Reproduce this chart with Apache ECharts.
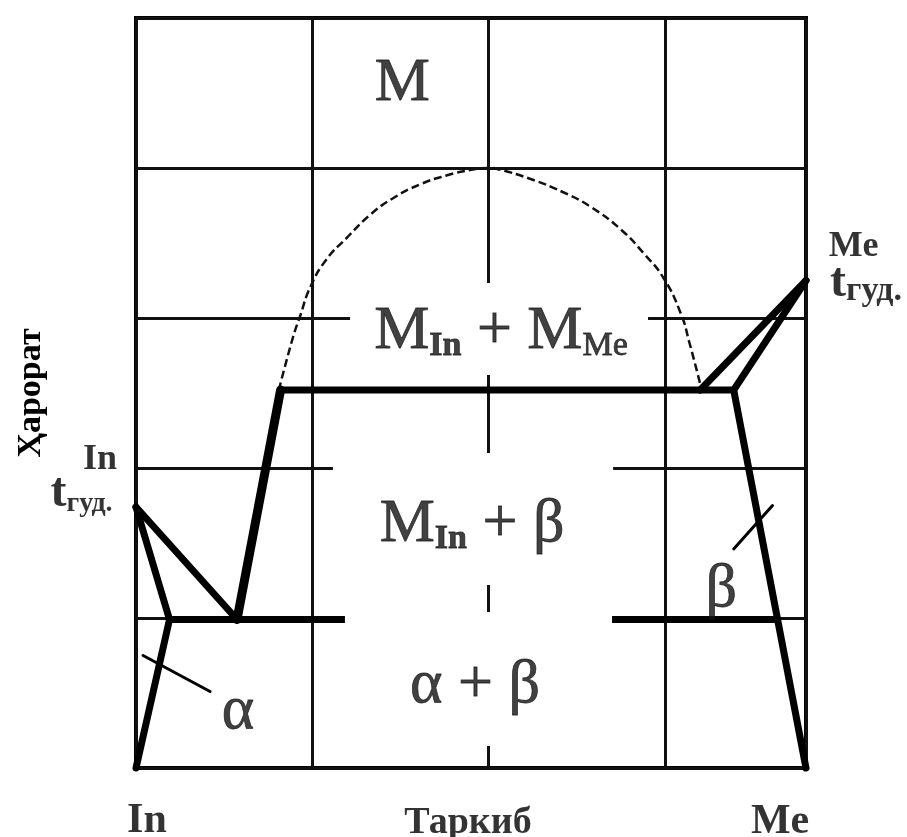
<!DOCTYPE html>
<html>
<head>
<meta charset="utf-8">
<script src="https://cdn.jsdelivr.net/npm/echarts@6/dist/echarts.min.js"></script>
<style>
  html, body { margin: 0; padding: 0; background: #fff; }
  #chart { width: 907px; height: 837px; }
</style>
</head>
<body>
<div id="chart"></div>
<script>
// x: composition in grid cells (0 = In, 3.8 = Me), y: temperature in grid cells
const liquidusIn = [[0, 1.74], [0.573, 0.99]]
const solidusIn = [[0, 1.74], [0.19, 0.99]]
const solvusIn = [[0, 0], [0.19, 0.99]]
const eutectic = [[0.19, 0.99], [3.62, 0.99]]
const liquidusMIn = [[0.573, 0.99], [0.82, 2.52]]
const monotectic = [[0.82, 2.52], [3.39, 2.52]]
const liquidusMe = [[3.8, 3.25], [3.2, 2.52]]
const solidusMe = [[3.8, 3.25], [3.39, 2.52]]
const solvusMe = [[3.39, 2.52], [3.8, 0]]
const gapCurve = [
  [0.81, 2.52], [0.89, 2.87], [0.93, 3.01], [0.99, 3.21], [1.08, 3.39], [1.20, 3.54],
  [1.33, 3.69], [1.46, 3.80], [1.61, 3.89], [1.76, 3.95], [1.91, 3.99], [2.00, 4.00],
  [2.06, 3.99], [2.23, 3.93], [2.42, 3.84], [2.58, 3.74], [2.75, 3.59], [2.88, 3.43],
  [2.99, 3.27], [3.09, 3.03], [3.14, 2.83], [3.20, 2.56]
]
const alphaPointer = [[0.04, 0.75], [0.42, 0.51]]
const betaPointer = [[3.39, 1.46], [3.61, 1.75]]

// white boxes behind the phase labels (grid lines are cut there)
const labelBoxes = [
  [[1.214, 2.62], [2.904, 3.233]],
  [[1.117, 1.22], [2.706, 2.10]],
  [[1.185, 0.147], [2.70, 1.04]]
]

const labelTexts = [
  '{m|M}',
  '{m|M}{sb|In}{m| + M}{s|Me}',
  '{m|M}{sb|In}{m| + β}',
  '{m|α + β}',
  '{m|α}',
  '{m|β}',
  '{b|In}',
  '{t|t}{ts|гуд.}',
  '{b|Me}',
  '{t|t}{ts2|гуд.}',
  '{bb|In}',
  '{bt|Таркиб}',
  '{bb|Me}'
]
const labelPos = [
  [1.51, 4.56], [2.07, 2.907], [1.906, 1.62], [1.923, 0.547], [0.579, 0.373], [3.32, 1.19],
  [-0.204, 2.053], [-0.309, 1.827], [4.07, 3.477], [4.14, 3.227],
  [0.062, -0.353], [1.883, -0.367], [3.653, -0.36]
]

const serif = "'Liberation Serif', 'DejaVu Serif', serif"
const ink = '#111'

function seg(data, width) {
  return {
    type: 'line', data: data, symbol: 'none', silent: true, clip: false, z: 3,
    lineStyle: { color: '#000', width: width, cap: 'round', join: 'miter' }
  }
}

// regular-weight phase label text, slightly thickened like the scanned original
function phase(size, weight) {
  return {
    fontFamily: serif, fontSize: size, fontWeight: weight || 'normal', color: ink,
    textBorderColor: ink, textBorderWidth: 0.8, verticalAlign: 'bottom'
  }
}

let myEchart = echarts.init(document.getElementById('chart'))
myEchart.setOption({
  animation: false,
  backgroundColor: '#fff',
  grid: {
    left: 136, top: 18, width: 670, height: 750,
    show: true, borderColor: '#000', borderWidth: 4
  },
  xAxis: {
    type: 'value', min: 0, max: 3.8, interval: 1,
    axisLine: { show: false }, axisTick: { show: false }, axisLabel: { show: false },
    splitLine: { show: true, lineStyle: { color: '#111', width: 3 } }
  },
  yAxis: {
    type: 'value', min: 0, max: 5, interval: 1,
    name: 'Ҳарорат', nameLocation: 'middle', nameRotate: 90, nameGap: 88,
    nameTextStyle: { fontFamily: serif, fontWeight: 'bold', fontSize: 34, color: '#000' },
    axisLine: { show: false }, axisTick: { show: false }, axisLabel: { show: false },
    splitLine: { show: true, lineStyle: { color: '#111', width: 3 } }
  },
  series: [
    Object.assign(seg(gapCurve, 2.5), {
      smooth: 0.5,
      lineStyle: { color: '#111', width: 2.5, type: [8, 4] }
    }),
    seg(liquidusIn, 7),
    seg(solidusIn, 7),
    seg(solvusIn, 7),
    seg(eutectic, 7),
    seg(liquidusMIn, 9),
    seg(monotectic, 7),
    seg(liquidusMe, 7),
    seg(solidusMe, 7),
    seg(solvusMe, 7),
    seg(alphaPointer, 3),
    seg(betaPointer, 3),
    {
      type: 'line', data: [], z: 6, silent: true,
      markArea: {
        z: 6,
        silent: true,
        itemStyle: { color: '#fff', borderWidth: 0 },
        data: labelBoxes.map(b => [{ coord: b[0] }, { coord: b[1] }])
      }
    },
    {
      type: 'scatter', symbolSize: 0, z: 10, silent: true, clip: false,
      data: labelPos.map((p, i) => ({
        value: p,
        label: { formatter: labelTexts[i] }
      })),
      label: {
        show: true, position: 'inside', color: ink,
        rich: {
          m: phase(62),
          sb: phase(34, 'bold'),
          s: phase(34),
          b: { fontFamily: serif, fontSize: 36, fontWeight: 'bold', color: '#000' },
          t: { fontFamily: serif, fontSize: 48, fontWeight: 'bold', color: '#000', verticalAlign: 'bottom' },
          ts: { fontFamily: serif, fontSize: 28, fontWeight: 'bold', color: '#000', verticalAlign: 'bottom' },
          ts2: { fontFamily: serif, fontSize: 34, fontWeight: 'bold', color: '#000', verticalAlign: 'bottom' },
          bb: { fontFamily: serif, fontSize: 42, fontWeight: 'bold', color: '#000' },
          bt: { fontFamily: serif, fontSize: 38, fontWeight: 'bold', color: '#000' }
        }
      }
    }
  ]
})
</script>
</body>
</html>
